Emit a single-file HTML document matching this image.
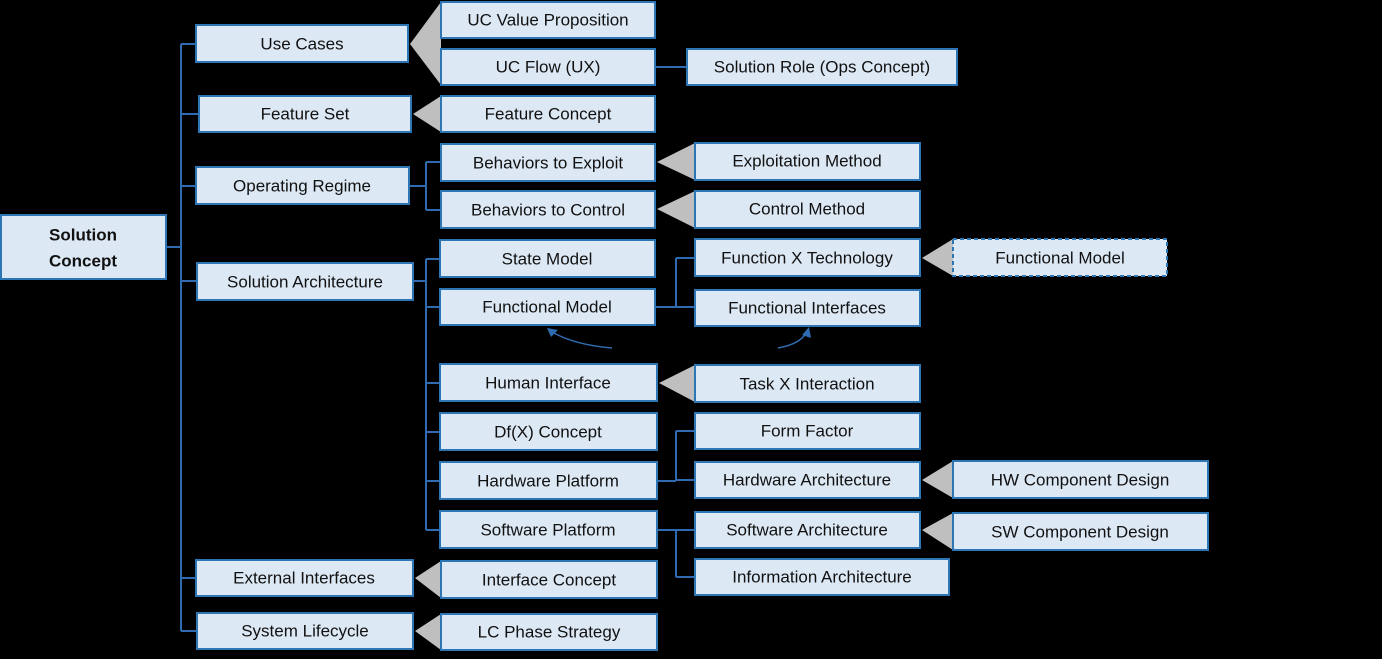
<!DOCTYPE html>
<html><head><meta charset="utf-8"><style>
html,body{margin:0;padding:0;background:#000;}
svg{display:block;}
text{font-family:"Liberation Sans",sans-serif;font-size:17px;fill:#111;text-anchor:middle;dominant-baseline:central;}
</style></head><body>
<svg width="1382" height="659" viewBox="0 0 1382 659" xmlns="http://www.w3.org/2000/svg">
<rect width="1382" height="659" fill="#000"/>
<g fill="#bfbfbf">
<polygon points="410,44 441,2 441,85"/>
<polygon points="413,114 441,96 441,132"/>
<polygon points="657,162 695,143 695,180"/>
<polygon points="657,209 695,191 695,228"/>
<polygon points="922,258 953,239 953,276"/>
<polygon points="659,383 695,365 695,402"/>
<polygon points="922,480 953,461 953,498"/>
<polygon points="922,530 953,513 953,550"/>
<polygon points="415,578 441,561 441,598"/>
<polygon points="415,631 441,614 441,650"/>
</g>
<g stroke="#2e6bb0" stroke-width="2" fill="none">
<path d="M166,247 H181 M181,44 V631 M181,44 H196 M181,114 H199 M181,186 H196 M181,281 H197 M181,578 H196 M181,631 H197"/>
<path d="M409,186 H426 M426,162 V210 M426,162 H441 M426,210 H441"/>
<path d="M413,281 H426 M426,259 V530 M426,259 H440 M426,307 H440 M426,383 H440 M426,432 H440 M426,481 H440 M426,530 H440"/>
<path d="M655,67 H687"/>
<path d="M655,307 H676 M676,258 V307 M676,258 H695 M676,307 H695"/>
<path d="M657,481 H676 M676,431 V481 M676,431 H695 M676,480 H695"/>
<path d="M657,530 H676 M676,530 V577 M676,530 H695 M676,577 H695"/>
<path d="M612,348 Q575,345 552,332" stroke-width="1.5"/>
<path d="M778,348 Q800,344 806,333" stroke-width="1.5"/>
</g>
<polygon points="547,328 558,330 551,337" fill="#2e6bb0"/>
<polygon points="809,327 811,338 802,335" fill="#2e6bb0"/>
<g fill="#dde8f5" stroke="#2e75b6" stroke-width="2">
<rect x="1" y="215" width="165" height="64"/>
<rect x="196" y="25" width="212" height="37"/>
<rect x="199" y="96" width="212" height="36"/>
<rect x="196" y="167" width="213" height="37"/>
<rect x="197" y="263" width="216" height="37"/>
<rect x="196" y="560" width="217" height="36"/>
<rect x="197" y="613" width="216" height="36"/>
<rect x="441" y="2" width="214" height="36"/>
<rect x="441" y="49" width="214" height="36"/>
<rect x="687" y="49" width="270" height="36"/>
<rect x="441" y="96" width="214" height="36"/>
<rect x="441" y="144" width="214" height="37"/>
<rect x="441" y="191" width="214" height="37"/>
<rect x="695" y="143" width="225" height="37"/>
<rect x="695" y="191" width="225" height="37"/>
<rect x="440" y="240" width="215" height="37"/>
<rect x="440" y="289" width="215" height="36"/>
<rect x="695" y="239" width="225" height="37"/>
<rect x="695" y="290" width="225" height="36"/>
<rect x="953" y="239" width="214" height="37" stroke-dasharray="4,3"/>
<rect x="440" y="364" width="217" height="37"/>
<rect x="695" y="365" width="225" height="37"/>
<rect x="440" y="413" width="217" height="37"/>
<rect x="695" y="413" width="225" height="36"/>
<rect x="440" y="462" width="217" height="37"/>
<rect x="695" y="462" width="225" height="36"/>
<rect x="953" y="461" width="255" height="37"/>
<rect x="440" y="511" width="217" height="37"/>
<rect x="695" y="512" width="225" height="36"/>
<rect x="953" y="513" width="255" height="37"/>
<rect x="695" y="559" width="254" height="36"/>
<rect x="441" y="561" width="216" height="37"/>
<rect x="441" y="614" width="216" height="36"/>
</g>
<text x="83" y="235" font-weight="bold">Solution</text>
<text x="83" y="261" font-weight="bold">Concept</text>
<text x="302" y="44">Use Cases</text>
<text x="305" y="114">Feature Set</text>
<text x="302" y="186">Operating Regime</text>
<text x="305" y="282">Solution Architecture</text>
<text x="304" y="578">External Interfaces</text>
<text x="305" y="631">System Lifecycle</text>
<text x="548" y="20">UC Value Proposition</text>
<text x="548" y="67">UC Flow (UX)</text>
<text x="822" y="67">Solution Role (Ops Concept)</text>
<text x="548" y="114">Feature Concept</text>
<text x="548" y="163">Behaviors to Exploit</text>
<text x="548" y="210">Behaviors to Control</text>
<text x="807" y="161">Exploitation Method</text>
<text x="807" y="209">Control Method</text>
<text x="547" y="259">State Model</text>
<text x="547" y="307">Functional Model</text>
<text x="807" y="258">Function X Technology</text>
<text x="807" y="308">Functional Interfaces</text>
<text x="1060" y="258">Functional Model</text>
<text x="548" y="383">Human Interface</text>
<text x="807" y="384">Task X Interaction</text>
<text x="548" y="432">Df(X) Concept</text>
<text x="807" y="431">Form Factor</text>
<text x="548" y="481">Hardware Platform</text>
<text x="807" y="480">Hardware Architecture</text>
<text x="1080" y="480">HW Component Design</text>
<text x="548" y="530">Software Platform</text>
<text x="807" y="530">Software Architecture</text>
<text x="1080" y="532">SW Component Design</text>
<text x="822" y="577">Information Architecture</text>
<text x="549" y="580">Interface Concept</text>
<text x="549" y="632">LC Phase Strategy</text>
</svg>
</body></html>
